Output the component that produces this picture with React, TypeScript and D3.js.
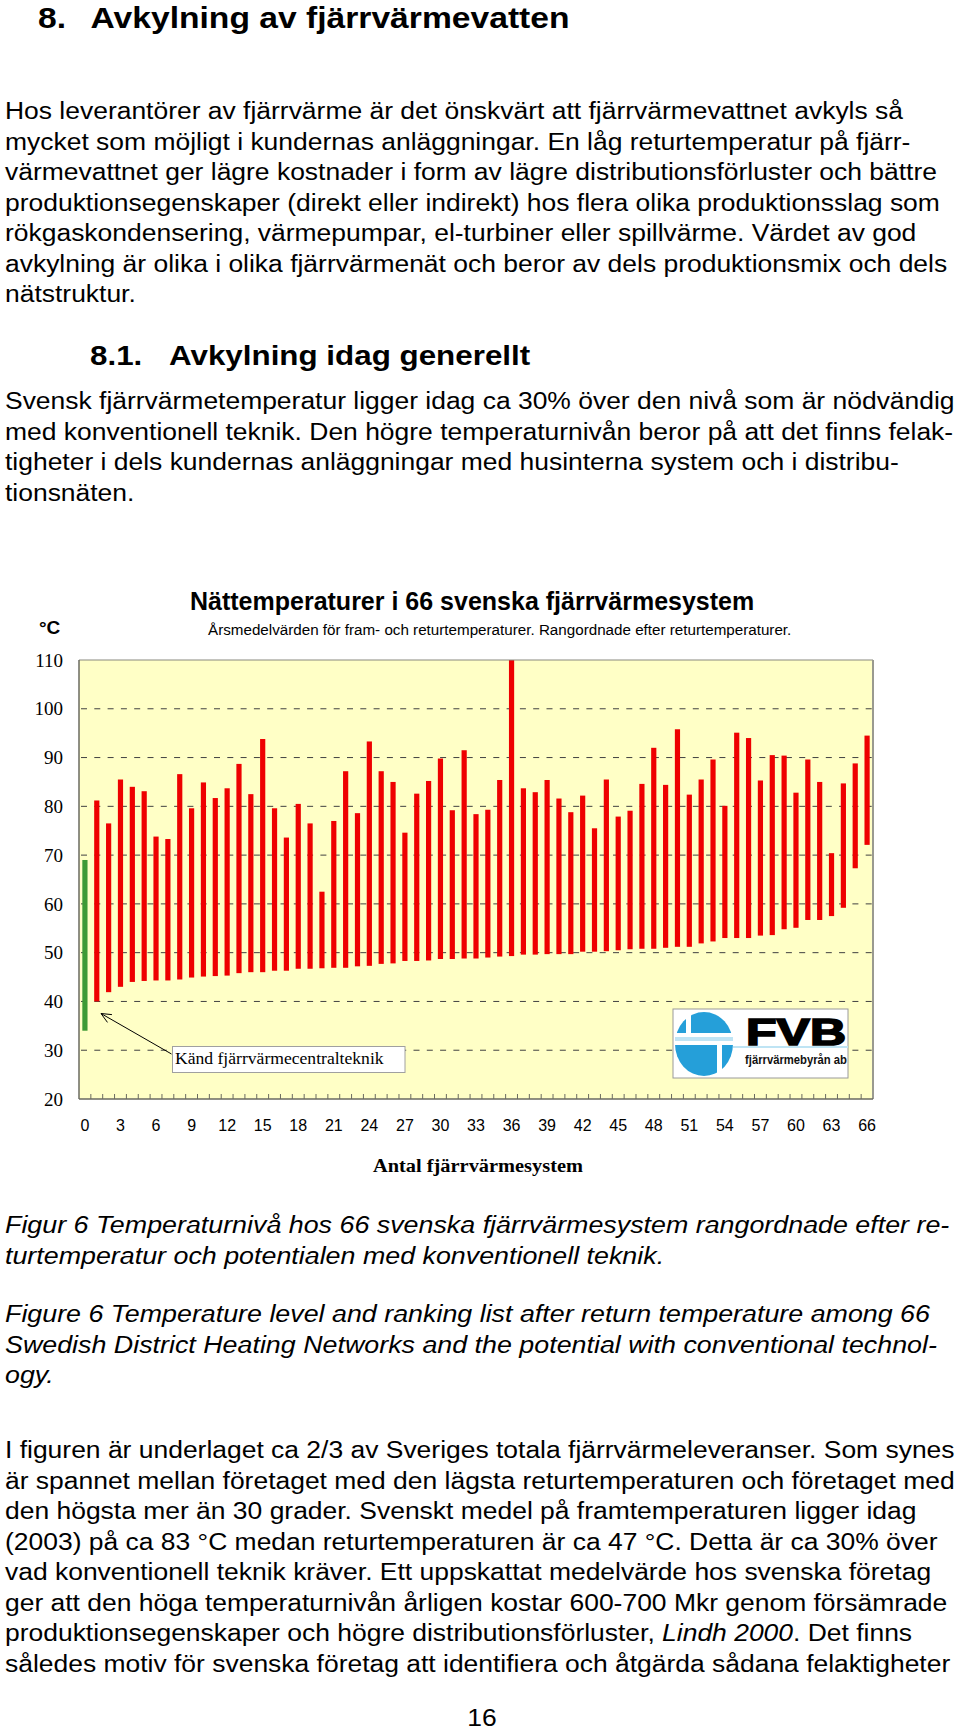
import React from "react";
import * as d3 from "d3";

// 67 systems: index 0 = known technology (green), 1..66 ranked by return temperature
const systems = d3.range(0, 67);

// annual mean supply temperature (bar top), °C
const supplyTemp = [
  69.0, 81.2, 76.5, 85.5, 84.0, 83.1, 73.8, 73.3, 86.6, 79.6,
  84.9, 81.7, 83.7, 88.7, 82.5, 93.8, 79.6, 73.6, 80.5, 76.5,
  62.5, 77.0, 87.2, 78.6, 93.3, 87.2, 85.0, 74.6, 82.6, 85.2,
  89.8, 79.2, 91.5, 78.4, 79.3, 85.4, 110.0, 83.7, 82.9, 85.4,
  81.6, 78.8, 82.2, 75.5, 85.5, 77.9, 79.1, 84.6, 92.0, 84.4,
  95.8, 82.4, 85.5, 89.6, 80.1, 95.1, 94.0, 85.3, 90.5, 90.4,
  82.8, 89.6, 85.0, 70.4, 84.7, 88.8, 94.5,
];

// annual mean return temperature (bar bottom), °C
const returnTemp = [
  34.0, 40.0, 41.9, 43.0, 44.0, 44.2, 44.3, 44.3, 44.5, 44.9,
  45.1, 45.2, 45.3, 45.8, 46.0, 46.0, 46.3, 46.3, 46.7, 46.7,
  46.8, 46.9, 46.9, 47.2, 47.3, 47.7, 47.8, 48.3, 48.3, 48.4,
  48.7, 48.7, 48.8, 48.8, 49.0, 49.2, 49.3, 49.6, 49.6, 49.7,
  49.7, 49.7, 50.2, 50.2, 50.3, 50.5, 50.7, 50.8, 50.8, 51.0,
  51.2, 51.2, 51.9, 52.3, 53.0, 53.0, 53.0, 53.5, 53.6, 54.8,
  55.1, 56.7, 56.7, 57.5, 59.2, 67.3, 72.1,
];

const xTickLabels = d3.range(0, 67, 3);
const yTickLabels = [20, 30, 40, 50, 60, 70, 80, 90, 100, 110];
const gridLevels = [30, 40, 50, 60, 70, 80, 90, 100];

const chartTitle = "Nättemperaturer i 66 svenska fjärrvärmesystem";
const chartSubtitle =
  "Årsmedelvärden för fram- och returtemperaturer. Rangordnade efter returtemperaturer.";
const xAxisTitle = "Antal fjärrvärmesystem";
const annotation = "Känd fjärrvärmecentralteknik";

const para1 = [
  "Hos leverantörer av fjärrvärme är det önskvärt att fjärrvärmevattnet avkyls så",
  "mycket som möjligt i kundernas anläggningar. En låg returtemperatur på fjärr-",
  "värmevattnet ger lägre kostnader i form av lägre distributionsförluster och bättre",
  "produktionsegenskaper (direkt eller indirekt) hos flera olika produktionsslag som",
  "rökgaskondensering, värmepumpar, el-turbiner eller spillvärme. Värdet av god",
  "avkylning är olika i olika fjärrvärmenät och beror av dels produktionsmix och dels",
  "nätstruktur.",
];
const para2 = [
  "Svensk fjärrvärmetemperatur ligger idag ca 30% över den nivå som är nödvändig",
  "med konventionell teknik. Den högre temperaturnivån beror på att det finns felak-",
  "tigheter i dels kundernas anläggningar med husinterna system och i distribu-",
  "tionsnäten.",
];
const captionSv = [
  "Figur 6 Temperaturnivå hos 66 svenska fjärrvärmesystem rangordnade efter re-",
  "turtemperatur och potentialen med konventionell teknik.",
];
const captionEn = [
  "Figure 6 Temperature level and ranking list after return temperature among 66",
  "Swedish District Heating Networks and the potential with conventional technol-",
  "ogy.",
];
const para3 = [
  "I figuren är underlaget ca 2/3 av Sveriges totala fjärrvärmeleveranser. Som synes",
  "är spannet mellan företaget med den lägsta returtemperaturen och företaget med",
  "den högsta mer än 30 grader. Svenskt medel på framtemperaturen ligger idag",
  "(2003) på ca 83 °C medan returtemperaturen är ca 47 °C. Detta är ca 30% över",
  "vad konventionell teknik kräver. Ett uppskattat medelvärde hos svenska företag",
  "ger att den höga temperaturnivån årligen kostar 600-700 Mkr genom försämrade",
  "produktionsegenskaper och högre distributionsförluster, |Lindh 2000|. Det finns",
  "således motiv för svenska företag att identifiera och åtgärda sådana felaktigheter",
];

const W = 960;
const H = 1730;
const sans = "'Liberation Sans', Arial, sans-serif";
const serif = "'Liberation Serif', 'Times New Roman', serif";
const bodySize = 24.5;
const bodyStretch = 1.08;
const lineGap = 30.5;

const plot = { left: 79, right: 873, top: 660, bottom: 1099 };

const Line = ({ x, y, text, size = bodySize, sx = bodyStretch, weight = "normal", italic = false, anchor = "start" }: any) => {
  // segments between | are italic
  const parts = text.split("|");
  return (
    <text
      transform={`translate(${x},${y}) scale(${sx},1)`}
      fontFamily={sans}
      fontSize={size}
      fontWeight={weight}
      fontStyle={italic ? "italic" : "normal"}
      textAnchor={anchor}
      fill="#000"
    >
      {parts.map((p: string, i: number) => (
        <tspan key={i} fontStyle={italic || i % 2 === 1 ? "italic" : "normal"}>
          {p}
        </tspan>
      ))}
    </text>
  );
};

const Block = ({ lines, y0, italic = false }: any) => (
  <g>
    {lines.map((l: string, i: number) => (
      <Line key={i} x={5} y={y0 + i * lineGap} text={l} italic={italic} sx={italic ? 1.095 : bodyStretch} />
    ))}
  </g>
);

const Logo = ({ x0, y0 }: { x0: number; y0: number }) => (
  <g transform={`translate(${x0},${y0})`}>
    <rect x={0} y={0} width={175} height={69} fill="#fff" stroke="#9a9a9a" strokeWidth={1} />
    <ellipse cx={31} cy={35} rx={29} ry={32} fill="#259fd9" />
    <rect x={2} y={24} width={58} height={12} fill="#fff" />
    <rect x={2} y={28} width={58} height={4} fill="#bfe4f4" />
    <rect x={13} y={2} width={5} height={22} fill="#fff" />
    <rect x={44} y={36} width={5} height={32} fill="#fff" />
    <rect x={60} y={37} width={115} height={2} fill="#bfe4f4" />
    <text
      x={73}
      y={36}
      fontFamily={sans}
      fontWeight="bold"
      fontSize={36}
      textLength={100}
      lengthAdjust="spacingAndGlyphs"
      fill="#000"
      stroke="#000"
      strokeWidth={1.6}
    >
      FVB
    </text>
    <text
      x={72}
      y={55}
      fontFamily={sans}
      fontWeight="bold"
      fontSize={12}
      textLength={102}
      lengthAdjust="spacingAndGlyphs"
      fill="#111"
    >
      fjärrvärmebyrån ab
    </text>
  </g>
);

const Chart = () => {
  const x = d3.scaleBand<number>().domain(systems).range([plot.left, plot.right]).padding(0);
  const y = d3.scaleLinear().domain([20, 110]).range([plot.bottom, plot.top]);
  const barW = 5.2;
  const cx = (i: number) => (x(i) as number) + x.bandwidth() / 2;

  // arrow from annotation box to the first (known-technology) bar
  const ax1 = 171.5, ay1 = 1054, ax2 = 101, ay2 = 1013.5;
  const ang = Math.atan2(ay1 - ay2, ax1 - ax2);
  const hl = 11, ha = 0.42;
  const head = `M${ax2 + hl * Math.cos(ang - ha)},${ay2 + hl * Math.sin(ang - ha)} L${ax2},${ay2} L${ax2 + hl * Math.cos(ang + ha)},${ay2 + hl * Math.sin(ang + ha)}`;

  return (
    <g>
      <text x={190} y={610} fontFamily={sans} fontWeight="bold" fontSize={25} fill="#000">
        {chartTitle}
      </text>
      <text x={208} y={635} fontFamily={sans} fontSize={15.2} fill="#000">
        {chartSubtitle}
      </text>
      <text x={39} y={634} fontFamily={sans} fontWeight="bold" fontSize={19} fill="#000">
        °C
      </text>

      <rect
        x={plot.left}
        y={plot.top}
        width={plot.right - plot.left}
        height={plot.bottom - plot.top}
        fill="#ffffc6"
      />
      {gridLevels.map((v) => (
        <line
          key={v}
          x1={plot.left + 2}
          x2={plot.right}
          y1={y(v)}
          y2={y(v)}
          stroke="#404040"
          strokeWidth={1}
          strokeDasharray="6,7.3"
        />
      ))}

      {systems.map((i) => (
        <rect
          key={i}
          x={cx(i) - barW / 2}
          y={y(supplyTemp[i])}
          width={barW}
          height={y(returnTemp[i]) - y(supplyTemp[i])}
          fill={i === 0 ? "#3d9a35" : "#ee0000"}
        />
      ))}

      {/* frame */}
      <line x1={plot.left} x2={plot.right} y1={plot.top} y2={plot.top} stroke="#8a8a80" strokeWidth={1.2} />
      <line x1={plot.right} x2={plot.right} y1={plot.top} y2={plot.bottom} stroke="#9a9a90" strokeWidth={2} />
      <line x1={plot.left} x2={plot.left} y1={plot.top} y2={plot.bottom} stroke="#6a6a60" strokeWidth={1.5} />
      <line x1={plot.left} x2={plot.right} y1={plot.bottom} y2={plot.bottom} stroke="#6a6a60" strokeWidth={1.5} />
      {systems.slice(1).map((i) => (
        <line
          key={i}
          x1={x(i)}
          x2={x(i)}
          y1={plot.bottom}
          y2={plot.bottom - 5}
          stroke="#6a6a60"
          strokeWidth={1}
        />
      ))}

      {yTickLabels.map((v) => (
        <text
          key={v}
          x={63}
          y={y(v)}
          dy="0.35em"
          textAnchor="end"
          fontFamily={serif}
          fontSize={19}
          fill="#000"
        >
          {v}
        </text>
      ))}
      {xTickLabels.map((v) => (
        <text key={v} x={cx(v)} y={1131} textAnchor="middle" fontFamily={sans} fontSize={16} fill="#000">
          {v}
        </text>
      ))}
      <text
        x={478}
        y={1172}
        textAnchor="middle"
        fontFamily={serif}
        fontWeight="bold"
        fontSize={18.5}
        textLength={210}
        lengthAdjust="spacingAndGlyphs"
        fill="#000"
      >
        {xAxisTitle}
      </text>

      {/* annotation */}
      <line x1={ax1} y1={ay1} x2={ax2} y2={ay2} stroke="#000" strokeWidth={1} />
      <path d={head} fill="none" stroke="#000" strokeWidth={1} />
      <rect x={172.5} y={1046.5} width={232.5} height={26} fill="#fff" stroke="#a0a0a0" strokeWidth={1} />
      <text x={175} y={1064} fontFamily={serif} fontSize={17.6} fill="#000">
        {annotation}
      </text>

      <Logo x0={673} y0={1009} />
    </g>
  );
};

export default function App() {
  return (
    <div style={{ position: "absolute", left: 0, top: 0, width: W, height: H, background: "#fff" }}>
      <svg width={W} height={H} viewBox={`0 0 ${W} ${H}`} style={{ display: "block" }}>
        <rect width={W} height={H} fill="#fff" />
        <Line x={38} y={28} text="8." size={30.3} sx={1.11} weight="bold" />
        <Line x={90.5} y={28} text="Avkylning av fjärrvärmevatten" size={30.3} sx={1.11} weight="bold" />
        <Block lines={para1} y0={119} />

        <Line x={90} y={365} text="8.1." size={28} sx={1.12} weight="bold" />
        <Line x={169} y={365} text="Avkylning idag generellt" size={28} sx={1.12} weight="bold" />
        <Block lines={para2} y0={409} />

        <Chart />

        <Block lines={captionSv} y0={1233} italic />
        <Block lines={captionEn} y0={1322} italic />
        <Block lines={para3} y0={1458} />

        <Line x={482} y={1726} text="16" anchor="middle" />
      </svg>
    </div>
  );
}
